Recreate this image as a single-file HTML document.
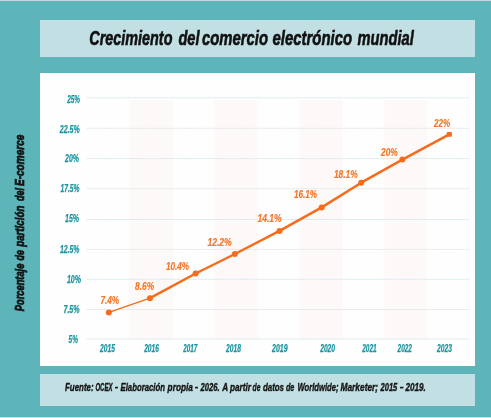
<!DOCTYPE html>
<html><head><meta charset="utf-8"><style>html,body{margin:0;padding:0;background:#5db4b9;overflow:hidden}svg{display:block;will-change:transform}</style></head>
<body><svg width="491" height="418" viewBox="0 0 491 418">
<rect x="0" y="0" width="491" height="418" fill="#5db4b9"/>
<rect x="0" y="0" width="491" height="1" fill="#c3d6dc"/>
<rect x="0" y="417" width="491" height="1" fill="#d6dee3"/>
<rect x="40" y="20" width="435" height="37" fill="#c2dfe4"/>
<rect x="40" y="73" width="435" height="293" fill="#fefefe"/>
<rect x="40" y="374" width="435" height="32" fill="#c2dfe4"/>
<rect x="129.5" y="100" width="43.30000000000001" height="239.5" fill="#fdf9f8"/>
<rect x="214.5" y="100" width="43.10000000000002" height="239.5" fill="#fdf9f8"/>
<rect x="299.5" y="100" width="43.30000000000001" height="239.5" fill="#fdf9f8"/>
<rect x="384.3" y="100" width="42.69999999999999" height="239.5" fill="#fdf9f8"/>
<line x1="87" y1="97.8" x2="469.5" y2="97.8" stroke="#d3e6e9" stroke-width="1" stroke-dasharray="1.2 0.5"/>
<line x1="87" y1="128.3" x2="469.5" y2="128.3" stroke="#e3e3e4" stroke-width="1" stroke-dasharray="1.2 0.5"/>
<line x1="87" y1="158.6" x2="469.5" y2="158.6" stroke="#d3e6e9" stroke-width="1" stroke-dasharray="1.2 0.5"/>
<line x1="87" y1="188.7" x2="469.5" y2="188.7" stroke="#e3e3e4" stroke-width="1" stroke-dasharray="1.2 0.5"/>
<line x1="87" y1="219.5" x2="469.5" y2="219.5" stroke="#d3e6e9" stroke-width="1" stroke-dasharray="1.2 0.5"/>
<line x1="87" y1="249.4" x2="469.5" y2="249.4" stroke="#e3e3e4" stroke-width="1" stroke-dasharray="1.2 0.5"/>
<line x1="87" y1="279.3" x2="469.5" y2="279.3" stroke="#d3e6e9" stroke-width="1" stroke-dasharray="1.2 0.5"/>
<line x1="87" y1="309.5" x2="469.5" y2="309.5" stroke="#e3e3e4" stroke-width="1" stroke-dasharray="1.2 0.5"/>
<line x1="87" y1="339" x2="469.5" y2="339" stroke="#d3e6e9" stroke-width="1" stroke-dasharray="1.2 0.5"/>
<polyline points="108.8,312.4 150,298.2" fill="none" stroke="#f66c1c" stroke-width="1.4"/>
<polyline points="150,298.2 195.6,273.5 234.9,254 279.5,230.9 321.7,207.4 361.2,182.7 402.4,159.6 449.3,134.3" fill="none" stroke="#f66c1c" stroke-width="2.5" stroke-linejoin="round"/>
<circle cx="108.8" cy="312.4" r="3.0" fill="#f66c1c"/>
<circle cx="150" cy="298.2" r="3.0" fill="#f66c1c"/>
<circle cx="195.6" cy="273.5" r="3.0" fill="#f66c1c"/>
<circle cx="234.9" cy="254" r="3.0" fill="#f66c1c"/>
<circle cx="279.5" cy="230.9" r="3.0" fill="#f66c1c"/>
<circle cx="321.7" cy="207.4" r="3.0" fill="#f66c1c"/>
<circle cx="361.2" cy="182.7" r="3.0" fill="#f66c1c"/>
<circle cx="402.4" cy="159.6" r="3.0" fill="#f66c1c"/>
<rect x="446.7" y="131.9" width="5.2" height="4.8" rx="1" fill="#f66c1c"/>
<text x="67.18" y="102.98" font-family='"Liberation Sans", sans-serif' font-weight="bold" font-style="italic" font-size="10.00" fill="#1a94a0" stroke="#1a94a0" stroke-width="0.25" textLength="12.82" lengthAdjust="spacingAndGlyphs">25%</text>
<text x="59.74" y="133.00" font-family='"Liberation Sans", sans-serif' font-weight="bold" font-style="italic" font-size="10.00" fill="#1a94a0" stroke="#1a94a0" stroke-width="0.25" textLength="19.94" lengthAdjust="spacingAndGlyphs">22.5%</text>
<text x="65.12" y="161.98" font-family='"Liberation Sans", sans-serif' font-weight="bold" font-style="italic" font-size="10.00" fill="#1a94a0" stroke="#1a94a0" stroke-width="0.25" textLength="13.88" lengthAdjust="spacingAndGlyphs">20%</text>
<text x="60.50" y="191.98" font-family='"Liberation Sans", sans-serif' font-weight="bold" font-style="italic" font-size="10.00" fill="#1a94a0" stroke="#1a94a0" stroke-width="0.25" textLength="18.82" lengthAdjust="spacingAndGlyphs">17.5%</text>
<text x="65.06" y="221.98" font-family='"Liberation Sans", sans-serif' font-weight="bold" font-style="italic" font-size="10.00" fill="#1a94a0" stroke="#1a94a0" stroke-width="0.25" textLength="14.00" lengthAdjust="spacingAndGlyphs">15%</text>
<text x="59.94" y="253.00" font-family='"Liberation Sans", sans-serif' font-weight="bold" font-style="italic" font-size="10.00" fill="#1a94a0" stroke="#1a94a0" stroke-width="0.25" textLength="19.50" lengthAdjust="spacingAndGlyphs">12.5%</text>
<text x="66.94" y="283.00" font-family='"Liberation Sans", sans-serif' font-weight="bold" font-style="italic" font-size="10.00" fill="#1a94a0" stroke="#1a94a0" stroke-width="0.25" textLength="14.12" lengthAdjust="spacingAndGlyphs">10%</text>
<text x="63.44" y="313.44" font-family='"Liberation Sans", sans-serif' font-weight="bold" font-style="italic" font-size="10.00" fill="#1a94a0" stroke="#1a94a0" stroke-width="0.25" textLength="16.18" lengthAdjust="spacingAndGlyphs">7.5%</text>
<text x="68.56" y="343.00" font-family='"Liberation Sans", sans-serif' font-weight="bold" font-style="italic" font-size="10.00" fill="#1a94a0" stroke="#1a94a0" stroke-width="0.25" textLength="9.32" lengthAdjust="spacingAndGlyphs">5%</text>
<text x="100.00" y="352.00" font-family='"Liberation Sans", sans-serif' font-weight="bold" font-style="italic" font-size="10.20" fill="#1a94a0" stroke="#1a94a0" stroke-width="0.25" textLength="14.94" lengthAdjust="spacingAndGlyphs">2015</text>
<text x="144.18" y="352.00" font-family='"Liberation Sans", sans-serif' font-weight="bold" font-style="italic" font-size="10.20" fill="#1a94a0" stroke="#1a94a0" stroke-width="0.25" textLength="14.76" lengthAdjust="spacingAndGlyphs">2016</text>
<text x="183.18" y="352.00" font-family='"Liberation Sans", sans-serif' font-weight="bold" font-style="italic" font-size="10.20" fill="#1a94a0" stroke="#1a94a0" stroke-width="0.25" textLength="14.08" lengthAdjust="spacingAndGlyphs">2017</text>
<text x="226.12" y="352.00" font-family='"Liberation Sans", sans-serif' font-weight="bold" font-style="italic" font-size="10.20" fill="#1a94a0" stroke="#1a94a0" stroke-width="0.25" textLength="14.82" lengthAdjust="spacingAndGlyphs">2018</text>
<text x="272.12" y="352.00" font-family='"Liberation Sans", sans-serif' font-weight="bold" font-style="italic" font-size="10.20" fill="#1a94a0" stroke="#1a94a0" stroke-width="0.25" textLength="15.44" lengthAdjust="spacingAndGlyphs">2019</text>
<text x="320.18" y="352.00" font-family='"Liberation Sans", sans-serif' font-weight="bold" font-style="italic" font-size="10.20" fill="#1a94a0" stroke="#1a94a0" stroke-width="0.25" textLength="14.82" lengthAdjust="spacingAndGlyphs">2020</text>
<text x="362.18" y="352.00" font-family='"Liberation Sans", sans-serif' font-weight="bold" font-style="italic" font-size="10.20" fill="#1a94a0" stroke="#1a94a0" stroke-width="0.25" textLength="14.50" lengthAdjust="spacingAndGlyphs">2021</text>
<text x="397.62" y="352.00" font-family='"Liberation Sans", sans-serif' font-weight="bold" font-style="italic" font-size="10.20" fill="#1a94a0" stroke="#1a94a0" stroke-width="0.25" textLength="14.32" lengthAdjust="spacingAndGlyphs">2022</text>
<text x="436.94" y="352.00" font-family='"Liberation Sans", sans-serif' font-weight="bold" font-style="italic" font-size="10.20" fill="#1a94a0" stroke="#1a94a0" stroke-width="0.25" textLength="14.94" lengthAdjust="spacingAndGlyphs">2023</text>
<text x="100.44" y="304.02" font-family='"Liberation Sans", sans-serif' font-weight="bold" font-style="italic" font-size="11.40" fill="#f57628" stroke="#f57628" stroke-width="0.2" textLength="18.68" lengthAdjust="spacingAndGlyphs">7.4%</text>
<text x="135.06" y="290.02" font-family='"Liberation Sans", sans-serif' font-weight="bold" font-style="italic" font-size="11.40" fill="#f57628" stroke="#f57628" stroke-width="0.2" textLength="19.00" lengthAdjust="spacingAndGlyphs">8.6%</text>
<text x="166.00" y="269.98" font-family='"Liberation Sans", sans-serif' font-weight="bold" font-style="italic" font-size="11.40" fill="#f57628" stroke="#f57628" stroke-width="0.2" textLength="23.06" lengthAdjust="spacingAndGlyphs">10.4%</text>
<text x="207.38" y="246.46" font-family='"Liberation Sans", sans-serif' font-weight="bold" font-style="italic" font-size="11.40" fill="#f57628" stroke="#f57628" stroke-width="0.2" textLength="24.30" lengthAdjust="spacingAndGlyphs">12.2%</text>
<text x="257.44" y="221.98" font-family='"Liberation Sans", sans-serif' font-weight="bold" font-style="italic" font-size="11.40" fill="#f57628" stroke="#f57628" stroke-width="0.2" textLength="24.24" lengthAdjust="spacingAndGlyphs">14.1%</text>
<text x="294.06" y="197.98" font-family='"Liberation Sans", sans-serif' font-weight="bold" font-style="italic" font-size="11.40" fill="#f57628" stroke="#f57628" stroke-width="0.2" textLength="23.00" lengthAdjust="spacingAndGlyphs">16.1%</text>
<text x="333.88" y="178.46" font-family='"Liberation Sans", sans-serif' font-weight="bold" font-style="italic" font-size="11.40" fill="#f57628" stroke="#f57628" stroke-width="0.2" textLength="23.80" lengthAdjust="spacingAndGlyphs">18.1%</text>
<text x="381.00" y="156.00" font-family='"Liberation Sans", sans-serif' font-weight="bold" font-style="italic" font-size="11.40" fill="#f57628" stroke="#f57628" stroke-width="0.2" textLength="16.68" lengthAdjust="spacingAndGlyphs">20%</text>
<text x="433.94" y="127.46" font-family='"Liberation Sans", sans-serif' font-weight="bold" font-style="italic" font-size="11.40" fill="#f57628" stroke="#f57628" stroke-width="0.2" textLength="16.12" lengthAdjust="spacingAndGlyphs">22%</text>
<text x="89.32" y="44.70" font-family='"Liberation Sans", sans-serif' font-weight="bold" font-style="italic" font-size="20.00" fill="#111111" stroke="#111111" stroke-width="0.6" textLength="83.12" lengthAdjust="spacingAndGlyphs">Crecimiento</text>
<text x="178.38" y="44.70" font-family='"Liberation Sans", sans-serif' font-weight="bold" font-style="italic" font-size="20.00" fill="#111111" stroke="#111111" stroke-width="0.6" textLength="21.06" lengthAdjust="spacingAndGlyphs">del</text>
<text x="201.88" y="44.70" font-family='"Liberation Sans", sans-serif' font-weight="bold" font-style="italic" font-size="20.00" fill="#111111" stroke="#111111" stroke-width="0.6" textLength="66.12" lengthAdjust="spacingAndGlyphs">comercio</text>
<text x="272.56" y="44.70" font-family='"Liberation Sans", sans-serif' font-weight="bold" font-style="italic" font-size="20.00" fill="#111111" stroke="#111111" stroke-width="0.6" textLength="79.50" lengthAdjust="spacingAndGlyphs">electrónico</text>
<text x="357.50" y="44.70" font-family='"Liberation Sans", sans-serif' font-weight="bold" font-style="italic" font-size="20.00" fill="#111111" stroke="#111111" stroke-width="0.6" textLength="56.20" lengthAdjust="spacingAndGlyphs">mundial</text>
<text x="65.06" y="390.80" font-family='"Liberation Sans", sans-serif' font-weight="bold" font-style="italic" font-size="11.50" fill="#141414" stroke="#141414" stroke-width="0.4" textLength="28.50" lengthAdjust="spacingAndGlyphs">Fuente:</text>
<text x="95.44" y="390.80" font-family='"Liberation Sans", sans-serif' font-weight="bold" font-style="italic" font-size="11.50" fill="#141414" stroke="#141414" stroke-width="0.4" textLength="17.00" lengthAdjust="spacingAndGlyphs">OCEX</text>
<text x="115.00" y="390.80" font-family='"Liberation Sans", sans-serif' font-weight="bold" font-style="italic" font-size="11.50" fill="#141414" stroke="#141414" stroke-width="0.4" textLength="3.00" lengthAdjust="spacingAndGlyphs">–</text>
<text x="120.50" y="390.80" font-family='"Liberation Sans", sans-serif' font-weight="bold" font-style="italic" font-size="11.50" fill="#141414" stroke="#141414" stroke-width="0.4" textLength="44.50" lengthAdjust="spacingAndGlyphs">Elaboración</text>
<text x="167.62" y="390.80" font-family='"Liberation Sans", sans-serif' font-weight="bold" font-style="italic" font-size="11.50" fill="#141414" stroke="#141414" stroke-width="0.4" textLength="25.26" lengthAdjust="spacingAndGlyphs">propia</text>
<text x="194.94" y="390.80" font-family='"Liberation Sans", sans-serif' font-weight="bold" font-style="italic" font-size="11.50" fill="#141414" stroke="#141414" stroke-width="0.4" textLength="3.00" lengthAdjust="spacingAndGlyphs">–</text>
<text x="200.56" y="390.80" font-family='"Liberation Sans", sans-serif' font-weight="bold" font-style="italic" font-size="11.50" fill="#141414" stroke="#141414" stroke-width="0.4" textLength="19.12" lengthAdjust="spacingAndGlyphs">2026.</text>
<text x="222.24" y="390.80" font-family='"Liberation Sans", sans-serif' font-weight="bold" font-style="italic" font-size="11.50" fill="#141414" stroke="#141414" stroke-width="0.4" textLength="28.70" lengthAdjust="spacingAndGlyphs">A partir</text>
<text x="252.56" y="390.80" font-family='"Liberation Sans", sans-serif' font-weight="bold" font-style="italic" font-size="11.50" fill="#141414" stroke="#141414" stroke-width="0.4" textLength="7.88" lengthAdjust="spacingAndGlyphs">de</text>
<text x="262.94" y="390.80" font-family='"Liberation Sans", sans-serif' font-weight="bold" font-style="italic" font-size="11.50" fill="#141414" stroke="#141414" stroke-width="0.4" textLength="21.06" lengthAdjust="spacingAndGlyphs">datos</text>
<text x="285.94" y="390.80" font-family='"Liberation Sans", sans-serif' font-weight="bold" font-style="italic" font-size="11.50" fill="#141414" stroke="#141414" stroke-width="0.4" textLength="8.44" lengthAdjust="spacingAndGlyphs">de</text>
<text x="297.44" y="390.80" font-family='"Liberation Sans", sans-serif' font-weight="bold" font-style="italic" font-size="11.50" fill="#141414" stroke="#141414" stroke-width="0.4" textLength="41.12" lengthAdjust="spacingAndGlyphs">Worldwide;</text>
<text x="340.44" y="390.80" font-family='"Liberation Sans", sans-serif' font-weight="bold" font-style="italic" font-size="11.50" fill="#141414" stroke="#141414" stroke-width="0.4" textLength="37.68" lengthAdjust="spacingAndGlyphs">Marketer;</text>
<text x="380.50" y="390.80" font-family='"Liberation Sans", sans-serif' font-weight="bold" font-style="italic" font-size="11.50" fill="#141414" stroke="#141414" stroke-width="0.4" textLength="16.76" lengthAdjust="spacingAndGlyphs">2015</text>
<text x="400.06" y="390.80" font-family='"Liberation Sans", sans-serif' font-weight="bold" font-style="italic" font-size="11.50" fill="#141414" stroke="#141414" stroke-width="0.4" textLength="3.44" lengthAdjust="spacingAndGlyphs">–</text>
<text x="405.62" y="390.80" font-family='"Liberation Sans", sans-serif' font-weight="bold" font-style="italic" font-size="11.50" fill="#141414" stroke="#141414" stroke-width="0.4" textLength="20.18" lengthAdjust="spacingAndGlyphs">2019.</text>
<text transform="translate(24.3,311.1799999999999) rotate(-90)" x="0" y="0" font-family='"Liberation Sans", sans-serif' font-weight="bold" font-style="italic" font-size="13.60" fill="#111111" stroke="#111111" stroke-width="0.7" textLength="47.56" lengthAdjust="spacingAndGlyphs">Porcentaje</text>
<text transform="translate(24.3,260.5) rotate(-90)" x="0" y="0" font-family='"Liberation Sans", sans-serif' font-weight="bold" font-style="italic" font-size="13.60" fill="#111111" stroke="#111111" stroke-width="0.7" textLength="10.32" lengthAdjust="spacingAndGlyphs">de</text>
<text transform="translate(24.3,246.8200000000001) rotate(-90)" x="0" y="0" font-family='"Liberation Sans", sans-serif' font-weight="bold" font-style="italic" font-size="13.60" fill="#111111" stroke="#111111" stroke-width="0.7" textLength="41.20" lengthAdjust="spacingAndGlyphs">partición</text>
<text transform="translate(24.3,200.93999999999974) rotate(-90)" x="0" y="0" font-family='"Liberation Sans", sans-serif' font-weight="bold" font-style="italic" font-size="13.60" fill="#111111" stroke="#111111" stroke-width="0.7" textLength="12.88" lengthAdjust="spacingAndGlyphs">del</text>
<text transform="translate(24.3,186.06000000000026) rotate(-90)" x="0" y="0" font-family='"Liberation Sans", sans-serif' font-weight="bold" font-style="italic" font-size="13.60" fill="#111111" stroke="#111111" stroke-width="0.7" textLength="51.44" lengthAdjust="spacingAndGlyphs">E-comerce</text>
</svg></body></html>
